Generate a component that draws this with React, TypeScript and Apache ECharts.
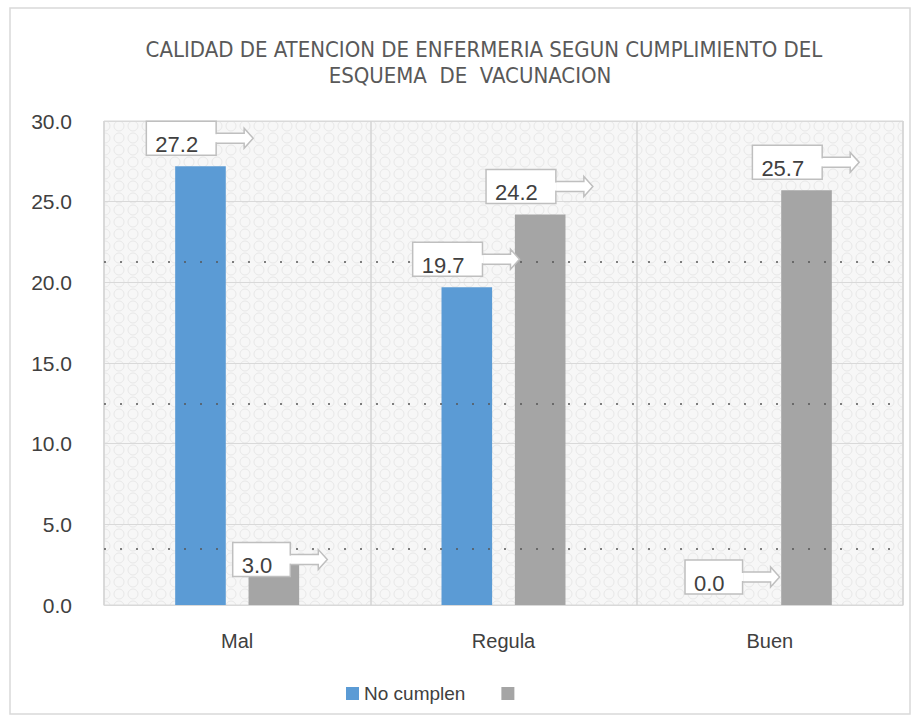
import React, { useEffect, useRef } from "react";
import * as echarts from "echarts";

const categories = ["Mal", "Regula", "Buen"];
const noCumplen = [27.2, 19.7, 0.0];
const cumplen = [3.0, 24.2, 25.7];
const seriesNames = ["No cumplen", " "];
const yTicks = { min: 0, max: 30, interval: 5 };
const scanDots = [21.3, 12.5, 3.5];
const titleLines = [
  "CALIDAD DE ATENCION DE ENFERMERIA SEGUN CUMPLIMIENTO DEL",
  "ESQUEMA  DE  VACUNACION",
];

const BLUE = "#5B9BD5";
const GREY = "#A5A5A5";
const BAR_FRAC = 0.19;
const GAP_FRAC = 0.45;
const LABEL_FONT = "22px 'Liberation Sans', Arial, sans-serif";
// manual nudges of individual callouts (series-category) in px
const calloutNudge: Record<string, [number, number]> = { "1-0": [13, 31], "0-2": [6, 0] };

function measure(text: string): number {
  const c = document.createElement("canvas").getContext("2d");
  if (!c) return text.length * 12;
  c.font = LABEL_FONT;
  return c.measureText(text).width;
}

function makePattern() {
  const cv = document.createElement("canvas");
  cv.width = 14;
  cv.height = 12;
  const g = cv.getContext("2d")!;
  g.fillStyle = "#f7f7f7";
  g.fillRect(0, 0, 14, 12);
  g.strokeStyle = "#e8e8e8";
  g.lineWidth = 1;
  g.beginPath();
  g.arc(7, 6, 5, 0, Math.PI * 2);
  g.stroke();
  return cv;
}

function calloutRenderer(seriesIdx: number) {
  return (params: any, api: any) => {
    const ci = api.value(0);
    const v = api.value(1);
    const [cx, top] = api.coord([ci, v]);
    const band = api.size([1, 0])[0];
    const barW = band * BAR_FRAC;
    const gap = barW * GAP_FRAC;
    const barCx = cx + (seriesIdx === 0 ? -1 : 1) * (barW + gap) / 2;
    const txt = Number(v).toFixed(1);
    const tw = measure(txt);
    const boxW = tw + 27;
    const boxH = 34;
    const nudge = calloutNudge[`${seriesIdx}-${ci}`] || [0, 0];
    const bx = barCx - barW * 1.07 + nudge[0];
    const by = top - 45 + nudge[1];
    const my = by + boxH / 2;
    const r = bx + boxW;
    const tip = r + 37;
    const hb = tip - 9;
    const stroke = "#bfbfbf";
    return {
      type: "group",
      children: [
        {
          type: "polygon",
          shape: {
            points: [
              [r - 1, my - 5],
              [hb, my - 5],
              [hb, my - 10],
              [tip, my],
              [hb, my + 10],
              [hb, my + 5],
              [r - 1, my + 5],
            ],
          },
          style: { fill: "#ffffff", stroke, lineWidth: 1.5 },
        },
        {
          type: "rect",
          shape: { x: bx, y: by, width: boxW, height: boxH },
          style: { fill: "#ffffff", stroke, lineWidth: 1.5 },
        },
        {
          type: "rect",
          shape: { x: r - 2, y: my - 4, width: 3, height: 8 },
          style: { fill: "#ffffff" },
        },
        {
          type: "text",
          x: bx + 9,
          y: my + 6,
          style: {
            text: txt,
            font: LABEL_FONT,
            fill: "#404040",
            verticalAlign: "middle",
            align: "left",
          },
        },
      ],
    };
  };
}

export default function App() {
  const ref = useRef<HTMLDivElement>(null);
  useEffect(() => {
    if (!ref.current) return;
    const chart = echarts.init(ref.current, undefined, { renderer: "svg" });
    const fontFamily = "'Liberation Sans', Arial, sans-serif";
    const titleFont = "22px 'Liberation Sans Narrow', 'DejaVu Sans Condensed', sans-serif";
    chart.setOption({
      animation: false,
      backgroundColor: "#ffffff",
      graphic: [
        {
          type: "rect",
          shape: { x: 10, y: 8, width: 900, height: 706 },
          style: { fill: "none", stroke: "#d9d9d9", lineWidth: 1.5 },
          silent: true,
          z: 0,
        },
        {
          type: "text",
          x: 484,
          y: 49,
          style: {
            text: titleLines[0],
            font: titleFont,
            fill: "#595959",
            align: "center",
            verticalAlign: "middle",
          },
          silent: true,
        },
        {
          type: "text",
          x: 470,
          y: 75,
          style: {
            text: titleLines[1],
            font: titleFont,
            fill: "#595959",
            align: "center",
            verticalAlign: "middle",
          },
          silent: true,
        },
      ],
      legend: {
        left: 341,
        top: 679,
        itemWidth: 13,
        itemHeight: 13,
        itemGap: 36,
        icon: "rect",
        textStyle: { fontFamily, fontSize: 19, color: "#404040" },
        data: seriesNames,
      },
      grid: {
        left: 104,
        right: 17,
        top: 121,
        bottom: 117,
        show: true,
        backgroundColor: { image: makePattern(), repeat: "repeat" },
        borderColor: "#d9d9d9",
        borderWidth: 1,
      },
      xAxis: {
        type: "category",
        data: categories,
        axisLine: { show: true, lineStyle: { color: "#d9d9d9" } },
        axisTick: { show: false },
        splitLine: { show: true, lineStyle: { color: "#d4d4d4", width: 1.5 } },
        axisLabel: { fontFamily, fontSize: 20, color: "#404040", margin: 26 },
      },
      yAxis: {
        type: "value",
        min: yTicks.min,
        max: yTicks.max,
        interval: yTicks.interval,
        axisLine: { show: false },
        axisTick: { show: false },
        splitLine: { show: true, lineStyle: { color: "#d9d9d9", width: 1 } },
        axisLabel: {
          fontFamily,
          fontSize: 21,
          color: "#404040",
          margin: 32,
          formatter: (v: number) => v.toFixed(1),
        },
      },
      series: [
        {
          name: seriesNames[0],
          type: "bar",
          data: noCumplen,
          barWidth: `${BAR_FRAC * 100}%`,
          barGap: `${GAP_FRAC * 100}%`,
          itemStyle: { color: BLUE },
          z: 3,
        },
        {
          name: seriesNames[1],
          type: "bar",
          data: cumplen,
          barWidth: `${BAR_FRAC * 100}%`,
          barGap: `${GAP_FRAC * 100}%`,
          itemStyle: { color: GREY },
          z: 3,
        },
        {
          type: "line",
          data: [],
          silent: true,
          z: 2,
          markLine: {
            silent: true,
            symbol: "none",
            label: { show: false },
            lineStyle: { type: [2, 14], color: "#555555", width: 2, opacity: 0.75 },
            data: scanDots.map((y) => ({ yAxis: y })),
          },
        },
        {
          type: "custom",
          renderItem: calloutRenderer(0),
          data: noCumplen.map((v, i) => [i, v]),
          z: 10,
          silent: true,
        },
        {
          type: "custom",
          renderItem: calloutRenderer(1),
          data: cumplen.map((v, i) => [i, v]),
          z: 10,
          silent: true,
        },
      ],
    });
    return () => chart.dispose();
  }, []);
  return (
    <div
      ref={ref}
      style={{ position: "fixed", left: 0, top: 0, width: 920, height: 722 }}
    />
  );
}
